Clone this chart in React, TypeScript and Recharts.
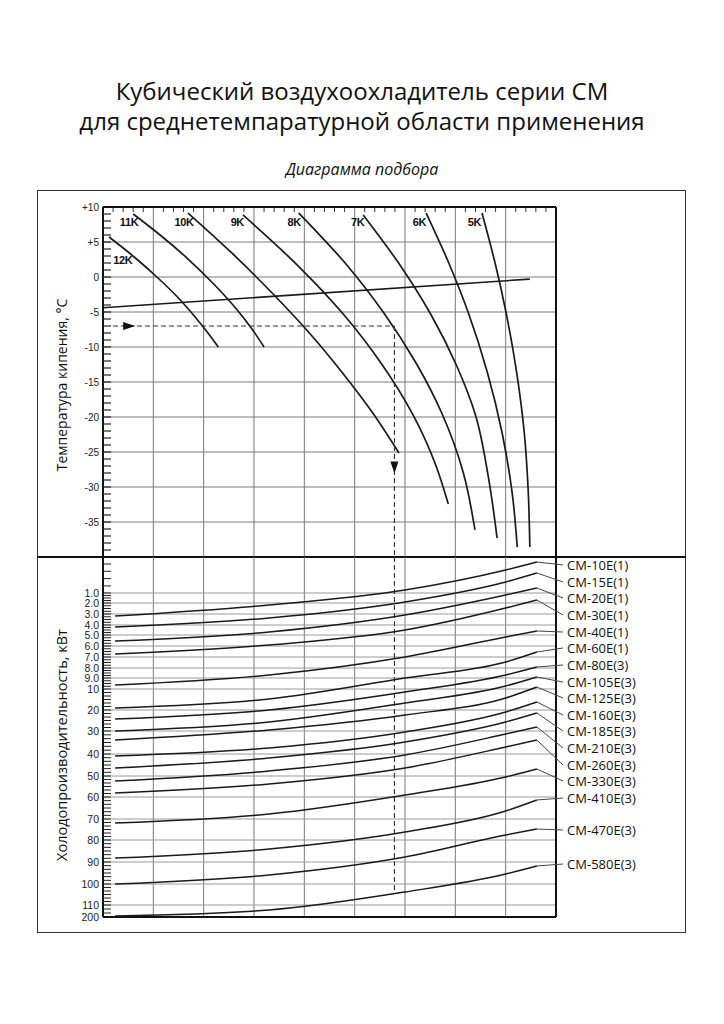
import React from 'react';
import { ComposedChart, Line, XAxis, YAxis, ReferenceLine, ReferenceDot } from 'recharts';

// ---------------- texts ----------------
const TITLE_LINE_1 = 'Кубический воздухоохладитель серии CM';
const TITLE_LINE_2 = 'для среднетемпаратурной области применения';
const SUBTITLE = 'Диаграмма подбора';
const TEMP_AXIS_TITLE = 'Температура кипения, °C';
const CAP_AXIS_TITLE = 'Холодопроизводительность, кВт';

// ---------------- upper diagram (boiling temperature, °C) ----------------
const tempLabelValues = [10, 5, 0, -5, -10, -15, -20, -25, -30, -35];
const tempLabelTexts = ['+10', '+5', '0', '-5', '-10', '-15', '-20', '-25', '-30', '-35'];
const tempGridValues = [5, 0, -5, -10, -15, -20, -25, -30, -35];
const columnGrid = [1, 2, 3, 4, 5, 6, 7, 8];

// temperature-difference curves: [column position, boiling temperature]
const curve12K = [[0.12, 5.71], [0.62, 2.86], [1.07, 0], [1.48, -2.86], [1.83, -5.71], [2.07, -7.86], [2.29, -10]];
const curve11K = [[0.6, 9.0], [1.11, 6.14], [1.69, 2.57], [2.2, -1.0], [2.65, -4.57], [2.96, -7.43], [3.2, -10]];
const curve10K = [[1.69, 9.14], [2.56, 3.43], [3.36, -2.29], [4.1, -8.0], [4.76, -13.71], [5.36, -19.43], [5.88, -25.14]];
const curve9K = [[2.78, 8.86], [3.86, 1.71], [4.79, -5.43], [5.55, -12.57], [6.16, -19.71], [6.61, -26.86], [6.86, -32.43]];
const curve8K = [[3.89, 9.14], [4.81, 2.0], [5.58, -5.14], [6.22, -12.29], [6.73, -19.43], [7.16, -28.0], [7.39, -36.14]];
const curve7K = [[5.17, 8.86], [5.9, 1.71], [6.52, -5.43], [7.02, -12.57], [7.4, -19.71], [7.65, -28.29], [7.83, -37.29]];
const curve6K = [[6.42, 9.14], [6.87, 2.0], [7.26, -5.14], [7.64, -13.71], [7.93, -22.29], [8.13, -30.86], [8.23, -38.57]];
const curve5K = [[7.53, 9.14], [7.79, 2.0], [8.01, -5.14], [8.22, -13.71], [8.37, -22.29], [8.45, -30.86], [8.48, -38.57]];
const kCurves = [curve12K, curve11K, curve10K, curve9K, curve8K, curve7K, curve6K, curve5K];
const kCurveNames = ['12K', '11K', '10K', '9K', '8K', '7K', '6K', '5K'];
const kLabelX = [0.58, 0.7, 1.8, 2.8, 3.93, 5.19, 6.42, 7.51];
const kLabelT = [2.4, 7.9, 7.9, 7.9, 7.9, 7.9, 7.9, 7.9];

const referenceLine = [[0, -4.4], [8.48, -0.3]];

// example selection path
const exampleTemp = -7;
const exampleStartX = 0.2;
const exampleX = 5.79;
const exampleArrowRightX = 0.52;
const exampleArrowDownT = -27.2;
const exampleEndRow = 33.7;

// ---------------- lower diagram (capacity, kW) ----------------
const capTickTexts = ['1.0', '2.0', '3.0', '4.0', '5.0', '6.0', '7.0', '8.0', '9.0', '10', '20', '30', '40', '50', '60', '70', '80', '90', '100', '110', '200'];
const capTickRows = [3.6, 4.6, 5.7, 6.8, 7.8, 8.9, 10.0, 11.1, 12.1, 13.2, 15.3, 17.4, 19.7, 21.9, 24.0, 26.2, 28.3, 30.5, 32.7, 34.8, 36.0];

const modelX = [0.24, 3.3, 6, 8, 8.62];
const cm10E = [5.9, 4.8, 3.3, 1.3, 0.5];
const cm15E = [7.0, 6.1, 4.5, 2.5, 1.6];
const cm20E = [8.4, 7.5, 5.8, 3.8, 3.1];
const cm30E = [9.7, 8.8, 7.3, 5.1, 4.3];
const cm40E = [12.8, 11.8, 10.0, 8.0, 7.4];
const cm60E = [15.1, 14.2, 12.1, 10.5, 9.5];
const cm80E = [16.2, 15.3, 13.5, 11.8, 11.0];
const cm105E = [17.4, 16.5, 14.6, 12.9, 12.0];
const cm125E = [18.3, 17.3, 15.8, 14.1, 13.0];
const cm160E = [19.9, 19.1, 17.5, 15.5, 14.5];
const cm185E = [21.1, 20.1, 18.5, 16.5, 15.6];
const cm210E = [22.4, 21.4, 19.8, 17.7, 17.0];
const cm260E = [23.6, 22.7, 21.1, 19.0, 18.3];
const cm330E = [26.6, 25.7, 23.8, 22.0, 21.2];
const cm410E = [30.1, 29.2, 27.5, 25.4, 24.3];
const cm470E = [32.7, 31.8, 30.0, 27.8, 27.2];
const cm580E = [35.9, 35.3, 33.5, 31.7, 30.9];
const modelSeries = [cm10E, cm15E, cm20E, cm30E, cm40E, cm60E, cm80E, cm105E, cm125E, cm160E, cm185E, cm210E, cm260E, cm330E, cm410E, cm470E, cm580E];
const modelNames = ['CM-10E(1)', 'CM-15E(1)', 'CM-20E(1)', 'CM-30E(1)', 'CM-40E(1)', 'CM-60E(1)', 'CM-80E(3)', 'CM-105E(3)', 'CM-125E(3)', 'CM-160E(3)', 'CM-185E(3)', 'CM-210E(3)', 'CM-260E(3)', 'CM-330E(3)', 'CM-410E(3)', 'CM-470E(3)', 'CM-580E(3)'];
const modelLabelRows = [0.8, 2.5, 4.1, 5.8, 7.5, 9.1, 10.8, 12.5, 14.1, 15.8, 17.4, 19.1, 20.8, 22.4, 24.1, 27.3, 30.7];

// ---------------- layout ----------------
const X_MAX = 11.583;
const AXIS_PX = 103;
const LEADER_X = 9.14;
const LABEL_X = 9.22;
const TOP_TICK_LEN = 0.72; // in °C units (≈5px)
const CURVE = '#1a1a1a';
const GRID = '#7a7a7a';
const TICK_FONT = "'Liberation Sans Narrow', 'Liberation Sans', Arial, sans-serif";

const topTicks: number[] = [];
for (let i = 1; i < 45; i++) if (i % 5 !== 0) topTicks.push(Math.round(i * 20) / 100);
const tempMinorTicks: number[] = [];
for (let t = -40; t <= 10; t++) tempMinorTicks.push(t);
const capAllTicks: number[] = [];
for (let r = 0.7; r < 3.4; r += 0.73) capAllTicks.push(r);
for (let i = 0; i < capTickRows.length; i++) {
  capAllTicks.push(capTickRows[i]);
  if (i < capTickRows.length - 1) {
    const a = capTickRows[i];
    const b = capTickRows[i + 1];
    const n = i < 9 ? 4 : i < 19 ? 6 : 3;
    for (let k = 1; k < n; k++) capAllTicks.push(a + ((b - a) * k) / n);
  }
}

const TempTick = (props: any) => {
  const { y, payload } = props;
  const v = payload.value;
  const idx = tempLabelValues.indexOf(v);
  return (
    <g>
      {v > -40 && v < 10 && <line x1={AXIS_PX} x2={AXIS_PX + 8} y1={y} y2={y} stroke="#222" strokeWidth={1.2} />}
      {idx >= 0 && (
        <text x={AXIS_PX - 4} y={y} textAnchor="end" dominantBaseline="central" fontSize={10} fontFamily={TICK_FONT} fill="#222">
          {tempLabelTexts[idx]}
        </text>
      )}
    </g>
  );
};

const CapTick = (props: any) => {
  const { y, payload } = props;
  const v = payload.value;
  let idx = -1;
  capTickRows.forEach((r, i) => {
    if (Math.abs(r - v) < 1e-6) idx = i;
  });
  return (
    <g>
      {v < 35.9 && <line x1={AXIS_PX} x2={AXIS_PX + 8} y1={y} y2={y} stroke="#222" strokeWidth={1} />}
      {idx >= 0 && (
        <text x={AXIS_PX - 4} y={y} textAnchor="end" dominantBaseline="central" fontSize={10.5} fontFamily={TICK_FONT} fill="#222">
          {capTickTexts[idx]}
        </text>
      )}
    </g>
  );
};

const RightArrow = (p: any) => (
  <path d={`M${p.cx - 6},${p.cy - 4} L${p.cx + 6},${p.cy} L${p.cx - 6},${p.cy + 4} Z`} fill="#111" />
);
const DownArrow = (p: any) => (
  <path d={`M${p.cx - 4},${p.cy - 6} L${p.cx + 4},${p.cy - 6} L${p.cx},${p.cy + 6} Z`} fill="#111" />
);

const toPts = (arr: number[][]) => arr.map(([x, t]) => ({ x, t }));

export default function App() {
  return (
    <div style={{ position: 'absolute', left: 0, top: 0, width: 724, height: 1024, background: '#fff', fontFamily: "'Open Sans', sans-serif", color: '#111' }}>
      <div style={{ position: 'absolute', left: 0, width: 724, top: 76, textAlign: 'center', fontSize: 24, lineHeight: '30px' }}>
        <div>{TITLE_LINE_1}</div>
        <div>{TITLE_LINE_2}</div>
      </div>
      <div style={{ position: 'absolute', left: 0, width: 724, top: 159, textAlign: 'center', fontSize: 16, lineHeight: '20px', fontStyle: 'italic' }}>
        {SUBTITLE}
      </div>

      <div style={{ position: 'absolute', left: 37, top: 190, width: 649, height: 743, border: '1px solid #333', boxSizing: 'border-box' }} />

      <div style={{ position: 'absolute', left: 62 - 150, top: 385 - 10, width: 300, height: 20, lineHeight: '20px', textAlign: 'center', fontSize: 14, transform: 'rotate(-90deg)' }}>
        {TEMP_AXIS_TITLE}
      </div>
      <div style={{ position: 'absolute', left: 62 - 150, top: 745 - 10, width: 300, height: 20, lineHeight: '20px', textAlign: 'center', fontSize: 14.5, transform: 'rotate(-90deg)' }}>
        {CAP_AXIS_TITLE}
      </div>

      {/* upper diagram */}
      <div style={{ position: 'absolute', left: 0, top: 190 }}>
        <ComposedChart width={724} height={367} margin={{ top: 17, right: 38, bottom: 0, left: 0 }}>
          <XAxis type="number" dataKey="x" domain={[0, X_MAX]} allowDataOverflow hide />
          <YAxis
            type="number"
            domain={[-40, 10]}
            allowDataOverflow
            ticks={tempMinorTicks}
            interval={0}
            width={103}
            tickLine={false}
            tickSize={0}
            tickMargin={4}
            axisLine={{ stroke: '#111', strokeWidth: 2 }}
            tick={(p: any) => <TempTick {...p} />}
          />
          {columnGrid.map((c) => (
            <ReferenceLine key={'vc' + c} segment={[{ x: c, y: -40 }, { x: c, y: 10 }]} stroke={GRID} strokeWidth={1} />
          ))}
          {tempGridValues.map((t) => (
            <ReferenceLine key={'ht' + t} segment={[{ x: 0, y: t }, { x: 9, y: t }]} stroke={GRID} strokeWidth={1} />
          ))}
          {topTicks.map((c) => (
            <ReferenceLine key={'tt' + c} segment={[{ x: c, y: 10 }, { x: c, y: 10 - TOP_TICK_LEN }]} stroke="#333" strokeWidth={1} />
          ))}
          <ReferenceLine segment={[{ x: 0, y: 10 }, { x: 9, y: 10 }]} stroke="#111" strokeWidth={2} />
          <ReferenceLine segment={[{ x: 9, y: -40 }, { x: 9, y: 10 }]} stroke="#111" strokeWidth={2} />

          {kCurves.map((c, i) => (
            <Line key={kCurveNames[i]} data={toPts(c)} dataKey="t" type="monotoneY" stroke={CURVE} strokeWidth={1.7} dot={false} isAnimationActive={false} />
          ))}
          <Line data={toPts(referenceLine)} dataKey="t" type="linear" stroke={CURVE} strokeWidth={1.6} dot={false} isAnimationActive={false} />
          <Line
            data={[{ x: exampleStartX, t: exampleTemp }, { x: exampleX, t: exampleTemp }]}
            dataKey="t"
            type="linear"
            stroke="#333"
            strokeWidth={1.1}
            strokeDasharray="5 3"
            dot={false}
            isAnimationActive={false}
          />
          <ReferenceLine segment={[{ x: exampleX, y: exampleTemp }, { x: exampleX, y: -40 }]} stroke="#333" strokeWidth={1.1} strokeDasharray="5 3" />
          <ReferenceDot x={exampleArrowRightX} y={exampleTemp} r={5} shape={RightArrow} />
          <ReferenceDot x={exampleX} y={exampleArrowDownT} r={5} shape={DownArrow} />

          {kCurveNames.map((n, i) => (
            <ReferenceDot
              key={'lbl' + n}
              x={kLabelX[i]}
              y={kLabelT[i]}
              r={1}
              shape={(p: any) => (
                <text x={p.cx} y={p.cy} textAnchor="end" dominantBaseline="central" fontSize={11} fontWeight="bold" fontFamily="'Liberation Sans', Arial, sans-serif" letterSpacing={-0.4} fill="#111">
                  {n}
                </text>
              )}
            />
          ))}
        </ComposedChart>
      </div>

      <div style={{ position: 'absolute', left: 37, top: 556, width: 649, height: 2, background: '#111' }} />

      {/* lower diagram */}
      <div style={{ position: 'absolute', left: 0, top: 557 }}>
        <ComposedChart width={724} height={368} margin={{ top: 0, right: 38, bottom: 8, left: 0 }}>
          <XAxis type="number" dataKey="x" domain={[0, X_MAX]} allowDataOverflow hide />
          <YAxis
            type="number"
            domain={[0, 36]}
            reversed
            allowDataOverflow
            ticks={capAllTicks}
            interval={0}
            width={103}
            tickLine={false}
            tickSize={0}
            tickMargin={4}
            axisLine={{ stroke: '#111', strokeWidth: 2 }}
            tick={(p: any) => <CapTick {...p} />}
          />
          {columnGrid.map((c) => (
            <ReferenceLine key={'lvc' + c} segment={[{ x: c, y: 0 }, { x: c, y: 36 }]} stroke={GRID} strokeWidth={1} />
          ))}
          {capTickRows.slice(0, -1).map((r, i) => (
            <ReferenceLine key={'lhr' + i} segment={[{ x: 0, y: r }, { x: 9, y: r }]} stroke="#9a9a9a" strokeWidth={1} />
          ))}
          <ReferenceLine segment={[{ x: 0, y: 36 }, { x: 9, y: 36 }]} stroke="#111" strokeWidth={2} />
          <ReferenceLine segment={[{ x: 9, y: 0 }, { x: 9, y: 36 }]} stroke="#111" strokeWidth={2} />
          <ReferenceLine segment={[{ x: exampleX, y: 0 }, { x: exampleX, y: exampleEndRow }]} stroke="#333" strokeWidth={1.1} strokeDasharray="5 3" />

          {modelSeries.map((s, i) => (
            <Line
              key={modelNames[i]}
              data={modelX.map((x, j) => ({ x, r: s[j] }))}
              dataKey="r"
              type="monotone"
              stroke={CURVE}
              strokeWidth={1.5}
              dot={false}
              isAnimationActive={false}
            />
          ))}
          {modelSeries.map((s, i) => (
            <ReferenceLine
              key={'ld' + i}
              segment={[{ x: modelX[modelX.length - 1], y: s[s.length - 1] }, { x: LEADER_X, y: modelLabelRows[i] }]}
              stroke="#444"
              strokeWidth={1}
            />
          ))}
          {modelNames.map((n, i) => (
            <ReferenceDot
              key={'mn' + i}
              x={LABEL_X}
              y={modelLabelRows[i]}
              r={1}
              shape={(p: any) => (
                <text x={p.cx} y={p.cy} textAnchor="start" dominantBaseline="central" fontSize={13} fontFamily="'Open Sans', sans-serif" fill="#111">
                  {n}
                </text>
              )}
            />
          ))}
        </ComposedChart>
      </div>
    </div>
  );
}
